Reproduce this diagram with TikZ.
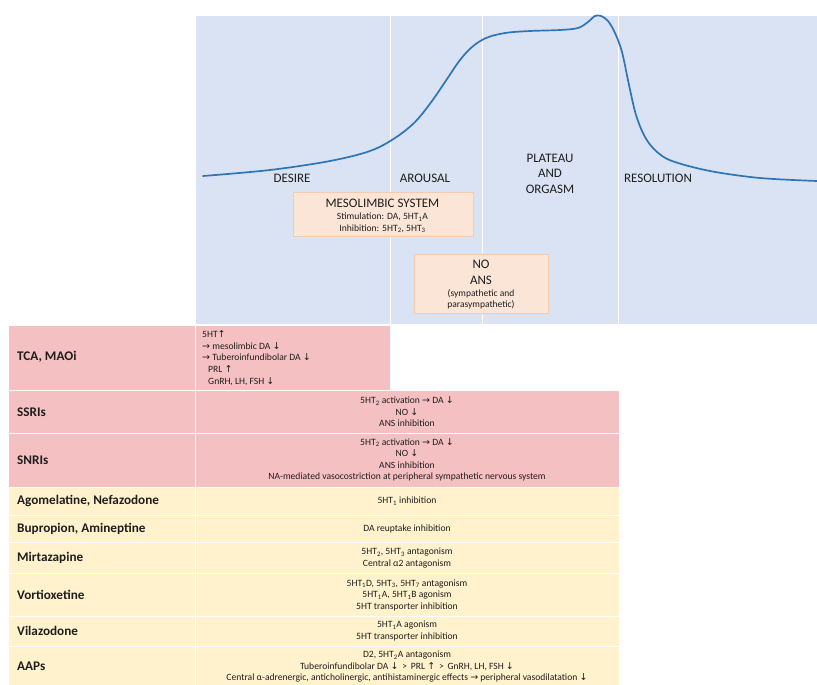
\documentclass[tikz,border=0pt]{standalone}
\usepackage{fontspec}
\setmainfont{Carlito}
\newfontfamily\symf{DejaVu Sans}
\newcommand{\ra}{{\symf\fontsize{9.5}{9.5}\selectfont →}}
\newcommand{\dn}{{\symf\fontsize{9.5}{9.5}\selectfont ↓}}
\newcommand{\up}{{\symf\fontsize{9.5}{9.5}\selectfont ↑}}
\newcommand{\sub}[1]{\textsubscript{#1}}
\definecolor{panelblue}{RGB}{218,227,243}
\definecolor{pinkc}{RGB}{245,192,194}
\definecolor{yellowc}{RGB}{255,242,204}
\definecolor{peach}{RGB}{251,229,214}
\definecolor{peachline}{RGB}{248,203,173}
\definecolor{curveblue}{RGB}{46,117,182}
\definecolor{txt}{RGB}{30,30,30}
\tikzset{
  phase/.style={text=txt, font=\fontsize{13}{15.5}\selectfont, align=center, inner sep=0pt},
  cell/.style={draw=white, line width=1.2pt, anchor=north west, inner sep=0pt},
  lab/.style={text=txt, font=\bfseries\fontsize{13.2}{15}\selectfont, anchor=west, inner sep=0pt},
  content/.style={text=txt, font=\fontsize{9.6}{11.5}\selectfont, align=center, inner sep=0pt},
  infobox/.style={fill=peach, draw=peachline, line width=0.8pt, anchor=north west, inner sep=0pt},
}
\begin{document}
\begin{tikzpicture}[x=1pt,y=-1pt]
\useasboundingbox (0,0) rectangle (817,685);
% phase panels
\node[cell, fill=panelblue, minimum width=195pt, minimum height=309pt] (pdesire) at (195,15) {};
\node[cell, fill=panelblue, minimum width=92pt, minimum height=309pt] (parousal) at (390,15) {};
\node[cell, fill=panelblue, minimum width=136pt, minimum height=309pt] (pplateau) at (482,15) {};
\node[cell, fill=panelblue, minimum width=199pt, minimum height=309pt] (presol) at (618,15) {};
% curve
\draw[curveblue, line width=1.7pt, line cap=round] plot[smooth, tension=0.55] coordinates {
 (203,176) (270,170) (330,161) (370,151) (395,138) (415,122) (432,101) (447,79) (460,60) (472,47) (486,38) (505,33) (530,31) (560,30) (578,28) (588,22) (595,16) (601,16) (608,21) (615,33) (622,52) (629,85) (636,115) (645,137) (656,151) (672,161) (710,171) (760,178) (817,181)};
% phase labels
\node[phase] (ldesire) at (292,178) {DESIRE};
\node[phase] (larousal) at (425,178) {AROUSAL};
\node[phase] (lplateau) at (550,173.5) {PLATEAU\\AND\\ORGASM};
\node[phase] (lresol) at (658,178) {RESOLUTION};
% info boxes
\node[infobox, minimum width=180pt, minimum height=44pt] (meso) at (293,192) {};
\node[phase, font=\fontsize{13}{15}\selectfont] (mesot) at (382.5,203) {MESOLIMBIC SYSTEM};
\node[content] (mesos) at (382.5,223) {Stimulation: DA, 5HT\sub{1}A\\Inhibition: 5HT\sub{2}, 5HT\sub{3}};
\node[infobox, minimum width=134pt, minimum height=59pt] (noans) at (414,254) {};
\node[phase, font=\fontsize{13}{16}\selectfont] (noanst) at (481,272) {NO\\ANS};
\node[content, font=\fontsize{9.5}{11}\selectfont] (noanss) at (481,299.5) {(sympathetic and\\parasympathetic)};
% TCA row
\node[cell, fill=pinkc, minimum width=187pt, minimum height=65pt] (tcal) at (8,325) {};
\node[cell, fill=pinkc, minimum width=195pt, minimum height=65pt] (tcac) at (195,325) {};
\node[lab] (tcat) at (17,357) {TCA, MAOi};
\node[content, align=left, anchor=west, font=\fontsize{9.6}{11.8}\selectfont] (tcax) at (202,358) {5HT\up\\\ra{} mesolimbic DA \dn\\\ra{} Tuberoinfundibolar DA \dn\\\hspace*{6pt}PRL \up\\\hspace*{6pt}GnRH, LH, FSH \dn};
% SSRIs
\node[cell, fill=pinkc, minimum width=187pt, minimum height=43pt] (ssril) at (8,390) {};
\node[cell, fill=pinkc, minimum width=424pt, minimum height=43pt] (ssric) at (195,390) {};
\node[lab] (ssrit) at (17,412) {SSRIs};
\node[content] (ssrix) at (407,412) {5HT\sub{2} activation \ra{} DA \dn\\NO \dn\\ANS inhibition};
% SNRIs
\node[cell, fill=pinkc, minimum width=187pt, minimum height=54pt] (snril) at (8,433) {};
\node[cell, fill=pinkc, minimum width=424pt, minimum height=54pt] (snric) at (195,433) {};
\node[lab] (snrit) at (17,460) {SNRIs};
\node[content] (snrix) at (407,460) {5HT\sub{2} activation \ra{} DA \dn\\NO \dn\\ANS inhibition\\NA-mediated vasocostriction at peripheral sympathetic nervous system};
% Agomelatine
\node[cell, fill=yellowc, minimum width=187pt, minimum height=28pt] (agol) at (8,487) {};
\node[cell, fill=yellowc, minimum width=424pt, minimum height=28pt] (agoc) at (195,487) {};
\node[lab] (agot) at (17,501) {Agomelatine, Nefazodone};
\node[content] (agox) at (407,501) {5HT\sub{1} inhibition};
% Bupropion
\node[cell, fill=yellowc, minimum width=187pt, minimum height=27pt] (bupl) at (8,515) {};
\node[cell, fill=yellowc, minimum width=424pt, minimum height=27pt] (bupc) at (195,515) {};
\node[lab] (bupt) at (17,529) {Bupropion, Amineptine};
\node[content] (bupx) at (407,529) {DA reuptake inhibition};
% Mirtazapine
\node[cell, fill=yellowc, minimum width=187pt, minimum height=31pt] (mirl) at (8,542) {};
\node[cell, fill=yellowc, minimum width=424pt, minimum height=31pt] (mirc) at (195,542) {};
\node[lab] (mirt) at (17,558) {Mirtazapine};
\node[content] (mirx) at (407,558) {5HT\sub{2}, 5HT\sub{3} antagonism\\Central α2 antagonism};
% Vortioxetine
\node[cell, fill=yellowc, minimum width=187pt, minimum height=43pt] (vorl) at (8,573) {};
\node[cell, fill=yellowc, minimum width=424pt, minimum height=43pt] (vorc) at (195,573) {};
\node[lab] (vort) at (17,595) {Vortioxetine};
\node[content] (vorx) at (407,595) {5HT\sub{1}D, 5HT\sub{3}, 5HT\sub{7} antagonism\\5HT\sub{1}A, 5HT\sub{1}B agonism\\5HT transporter inhibition};
% Vilazodone
\node[cell, fill=yellowc, minimum width=187pt, minimum height=30pt] (vill) at (8,616) {};
\node[cell, fill=yellowc, minimum width=424pt, minimum height=30pt] (vilc) at (195,616) {};
\node[lab] (vilt) at (17,631) {Vilazodone};
\node[content] (vilx) at (407,631) {5HT\sub{1}A agonism\\5HT transporter inhibition};
% AAPs
\node[cell, fill=yellowc, minimum width=187pt, minimum height=40pt] (aapl) at (8,646) {};
\node[cell, fill=yellowc, minimum width=424pt, minimum height=40pt] (aapc) at (195,646) {};
\node[lab] (aapt) at (17,666) {AAPs};
\node[content] (aapx) at (407,667) {D2, 5HT\sub{2}A antagonism\\Tuberoinfundibolar DA \dn{} \,>\, PRL \up{} \,>\, GnRH, LH, FSH \dn\\Central α-adrenergic, anticholinergic, antihistaminergic effects \ra{} peripheral vasodilatation \dn};
\end{tikzpicture}
\end{document}
